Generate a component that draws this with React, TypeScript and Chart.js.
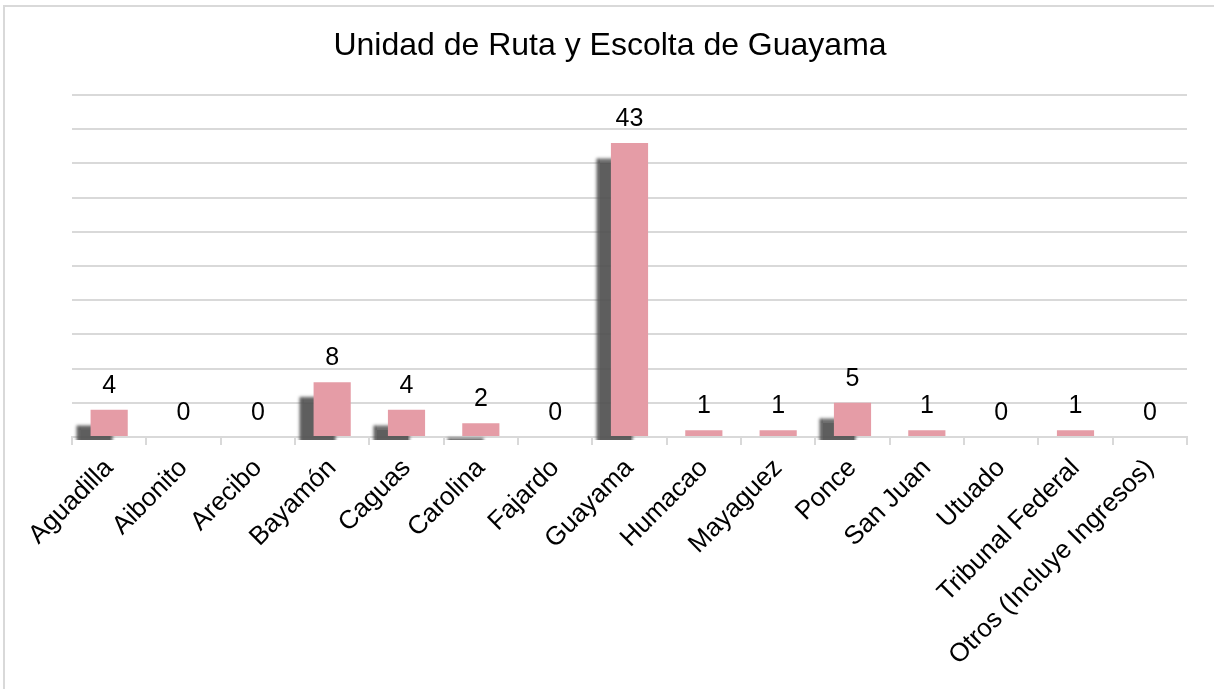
import React, { useEffect, useRef } from "react";
import { Chart, registerables } from "chart.js";

Chart.register(...registerables);

const titleText = "Unidad de Ruta y Escolta de Guayama";
const categories = [
  "Aguadilla",
  "Aibonito",
  "Arecibo",
  "Bayamón",
  "Caguas",
  "Carolina",
  "Fajardo",
  "Guayama",
  "Humacao",
  "Mayaguez",
  "Ponce",
  "San Juan",
  "Utuado",
  "Tribunal Federal",
  "Otros (Incluye Ingresos)",
];
const values = [4, 0, 0, 8, 4, 2, 0, 43, 1, 1, 5, 1, 0, 1, 0];
const yMin = 0;
const yMax = 50;
const yStep = 5;

const FONT = '"Liberation Sans", Arial, sans-serif';
const GRID = "#d9d9d9";
const BAR = "#E59CA6";

const shadowPlugin = {
  id: "barShadow",
  beforeDatasetsDraw(chart: any) {
    const ctx = chart.ctx;
    ctx.save();
    ctx.shadowColor = "rgba(80,80,80,0.92)";
    ctx.shadowBlur = 3;
    ctx.shadowOffsetX = -15;
    ctx.shadowOffsetY = 15;
  },
  afterDatasetsDraw(chart: any) {
    chart.ctx.restore();
  },
};

const labelPlugin = {
  id: "valueLabels",
  afterDraw(chart: any) {
    const ctx = chart.ctx;
    const meta = chart.getDatasetMeta(0);
    ctx.save();
    ctx.font = `25px ${FONT}`;
    ctx.fillStyle = "#000";
    ctx.textAlign = "center";
    ctx.textBaseline = "alphabetic";
    meta.data.forEach((bar: any, i: number) => {
      ctx.fillText(String(values[i]), bar.x, bar.y - 17);
    });
    ctx.restore();
  },
};

export default function App() {
  const ref = useRef<HTMLCanvasElement | null>(null);

  useEffect(() => {
    if (!ref.current) return;
    const chart = new Chart(ref.current, {
      type: "bar",
      data: {
        labels: categories,
        datasets: [
          {
            data: values,
            backgroundColor: BAR,
            borderWidth: 0,
            categoryPercentage: 1,
            barPercentage: 0.5,
            clip: { left: 0, top: 0, right: 0, bottom: 3 } as any,
          },
        ],
      },
      options: {
        animation: false,
        responsive: false,
        layout: { padding: { left: 33, right: 27, top: 0, bottom: 0 } },
        plugins: {
          legend: { display: false },
          tooltip: { enabled: false },
          title: {
            display: true,
            text: titleText,
            color: "#000",
            font: { size: 32, weight: "normal", family: FONT, lineHeight: 1.2 },
            padding: { top: 27, bottom: 29.6 },
          },
        },
        scales: {
          x: {
            grid: {
              display: true,
              drawOnChartArea: false,
              drawTicks: true,
              tickLength: 8,
              color: GRID,
              lineWidth: 2,
              offset: true,
            },
            border: { display: true, color: GRID, width: 2 },
            ticks: {
              autoSkip: false,
              minRotation: 45,
              maxRotation: 45,
              color: "#000",
              padding: 8,
              font: { size: 26, family: FONT },
            },
            afterFit: (s: any) => {
              s.height = 252;
            },
          },
          y: {
            min: yMin,
            max: yMax,
            ticks: { display: false, stepSize: yStep },
            grid: { color: GRID, lineWidth: 2, drawTicks: false },
            border: { display: false },
            afterFit: (s: any) => {
              s.width = 39;
            },
          },
        },
      },
      plugins: [shadowPlugin, labelPlugin],
    });
    return () => chart.destroy();
  }, []);

  return (
    <div style={{ position: "absolute", left: 0, top: 0, width: 1214, height: 689, background: "#fff", overflow: "hidden" }}>
      <div
        style={{
          position: "absolute",
          left: 3,
          top: 5,
          width: 1300,
          height: 800,
          borderLeft: `2px solid ${GRID}`,
          borderTop: `2px solid ${GRID}`,
          boxSizing: "border-box",
        }}
      />
      <canvas ref={ref} width={1214} height={689} style={{ position: "absolute", left: 0, top: 0, display: "block" }} />
    </div>
  );
}
